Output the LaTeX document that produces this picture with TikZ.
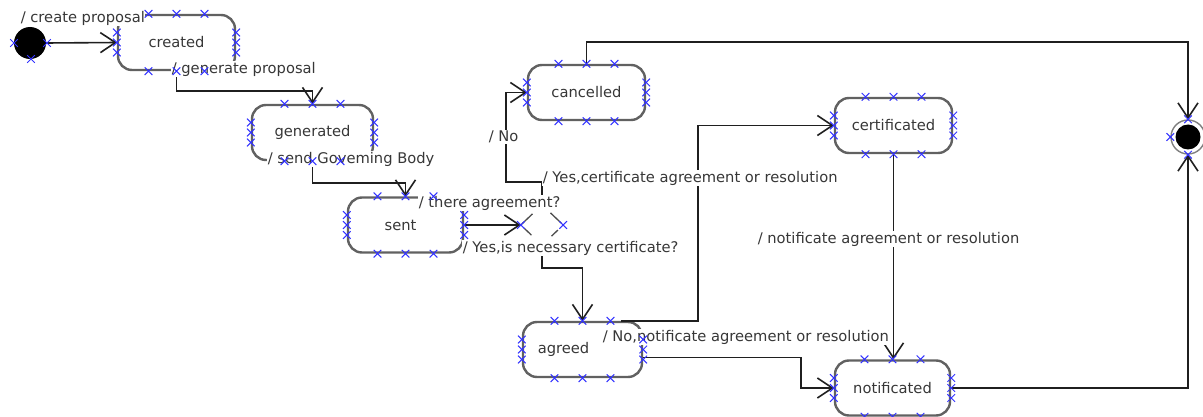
\documentclass[tikz,border=0pt]{standalone}
\usepackage{fontspec}
\setmainfont{DejaVu Sans}
\usetikzlibrary{arrows.meta,calc}
\definecolor{handle}{RGB}{50,50,255}
\definecolor{ink}{RGB}{55,55,55}

% small selection handle drawn as an x
\newcommand\hcross[1]{\draw[handlemark] #1 ++(-3.8,-3.8) -- ++(7.6,7.6) ++(-7.6,0) -- ++(7.6,-7.6);}
% handles around a state box
\newcommand\statehandles[1]{%
  \foreach \dx in {-28,0,28}{\hcross{([xshift=\dx pt]#1.north)}\hcross{([xshift=\dx pt]#1.south)}}%
  \foreach \dy in {-10,0,10}{\hcross{([yshift=\dy pt]#1.west)}\hcross{([yshift=\dy pt]#1.east)}}}

\begin{document}
\begin{tikzpicture}[x=1pt,y=-1pt,
  every node/.style={font=\fontsize{14.7}{16}\selectfont,text=ink},
  state/.style={draw=black!62,line width=2.4pt,rounded corners=14pt,
    minimum width=#1,minimum height=55pt,inner sep=0pt},
  flow/.style={draw=black!88,line width=1.6pt,
    -{Straight Barb[length=15pt,width=20pt]}},
  edgelab/.style={fill=white,inner sep=0.6pt,anchor=west},
  handlemark/.style={draw=handle,line width=1pt},
  dseg/.style={draw=black!70,line width=1.3pt}]
\useasboundingbox (0,0) rectangle (1203,417);

% states
\node[circle,fill=black,minimum size=32pt,inner sep=0pt] (init) at (30,43) {};
\node[state=117pt] (created) at (176.5,42.5) {created};
\node[state=121pt] (generated) at (312.5,132.5) {generated};
\node[state=115pt,label={[xshift=-5pt]center:sent}] (sent) at (405.5,225) {};
\node[state=117pt] (cancelled) at (586.5,92.5) {cancelled};
\node[state=117pt] (certificated) at (893.5,125.5) {certificated};
\node[state=119pt,label={[xshift=-19pt]center:agreed}] (agreed) at (582.5,349.5) {};
\node[state=115pt] (notificated) at (892.5,388) {notificated};
\node[circle,draw=black!50,line width=1.4pt,fill=white,minimum size=34pt,inner sep=0pt] (final) at (1188,137) {};
\fill[black] (final.center) circle (12.5pt);

% decision point, only short pieces of its outline show
\node[minimum width=42pt,minimum height=40pt,inner sep=0pt] (decision) at (542,225) {};
\coordinate (dl) at (decision.west);
\coordinate (dr) at (decision.east);
\coordinate (dt) at (decision.north);
\coordinate (db) at (decision.south);
\draw[dseg] ($(dl)!0.05!(dt)$) -- ($(dl)!0.55!(dt)$);
\draw[dseg] ($(dl)!0.15!(db)$) -- ($(dl)!0.5!(db)$);
\draw[dseg] ($(dr)!0.1!(dt)$) -- ($(dr)!0.6!(dt)$);
\draw[dseg] ($(dr)!0.25!(db)$) -- ($(dr)!0.55!(db)$);

% transitions
\draw[flow] (init.east) -- (created.west);
\draw[flow] (created.south) -- ++(0,20) -| (generated.north);
\draw[flow] (generated.south) -- ++(0,22) -| (sent.north);
\draw[flow] (sent.east) -- (dl);
\draw[flow] (dt) -- ++(0,-23) -| ([xshift=-21pt]cancelled.west) -- (cancelled.west);
\draw[flow] (db) -- ++(0,23) -| (agreed.north);
\draw[flow] ([xshift=-22pt]agreed.north east) -- ++(77,0) |- (certificated.west);
\draw[flow] ([yshift=-8pt]agreed.east) -- ++(158,0) |- (notificated.west);
\draw[flow] (certificated.south) -- (certificated.south |- notificated.north);
\draw[flow] (cancelled.north) -- ++(0,-22) -| (final.north);
\draw[flow] (notificated.east) -| (final.south);

% transition labels
\node[edgelab] (l1) at (20,18) {/ create proposal};
\node[edgelab] (l2) at (171,69) {/ generate proposal};
\node[edgelab] (l3) at (267,159) {/ send Goveming Body};
\node[edgelab] (l4) at (418,203) {/ there agreement?};
\node[edgelab] (l5) at (462,248) {/ Yes,is necessary certificate?};
\node[edgelab] (l6) at (542,178) {/ Yes,certificate agreement or resolution};
\node[edgelab] (l7) at (488,137) {/ No};
\node[edgelab] (l8) at (757,239) {/ notificate agreement or resolution};
\node[edgelab] (l9) at (602,337) {/ No,notificate agreement or resolution};

% selection handles
\foreach \s in {created,generated,sent,cancelled,certificated,agreed,notificated}{\statehandles{\s}}
\hcross{(dl)}\hcross{(dr)}
\hcross{(14,43)}\hcross{(47,43)}\hcross{(31,59)}
\hcross{(final.west)}\hcross{(final.north)}\hcross{(final.south)}
\end{tikzpicture}
\end{document}
